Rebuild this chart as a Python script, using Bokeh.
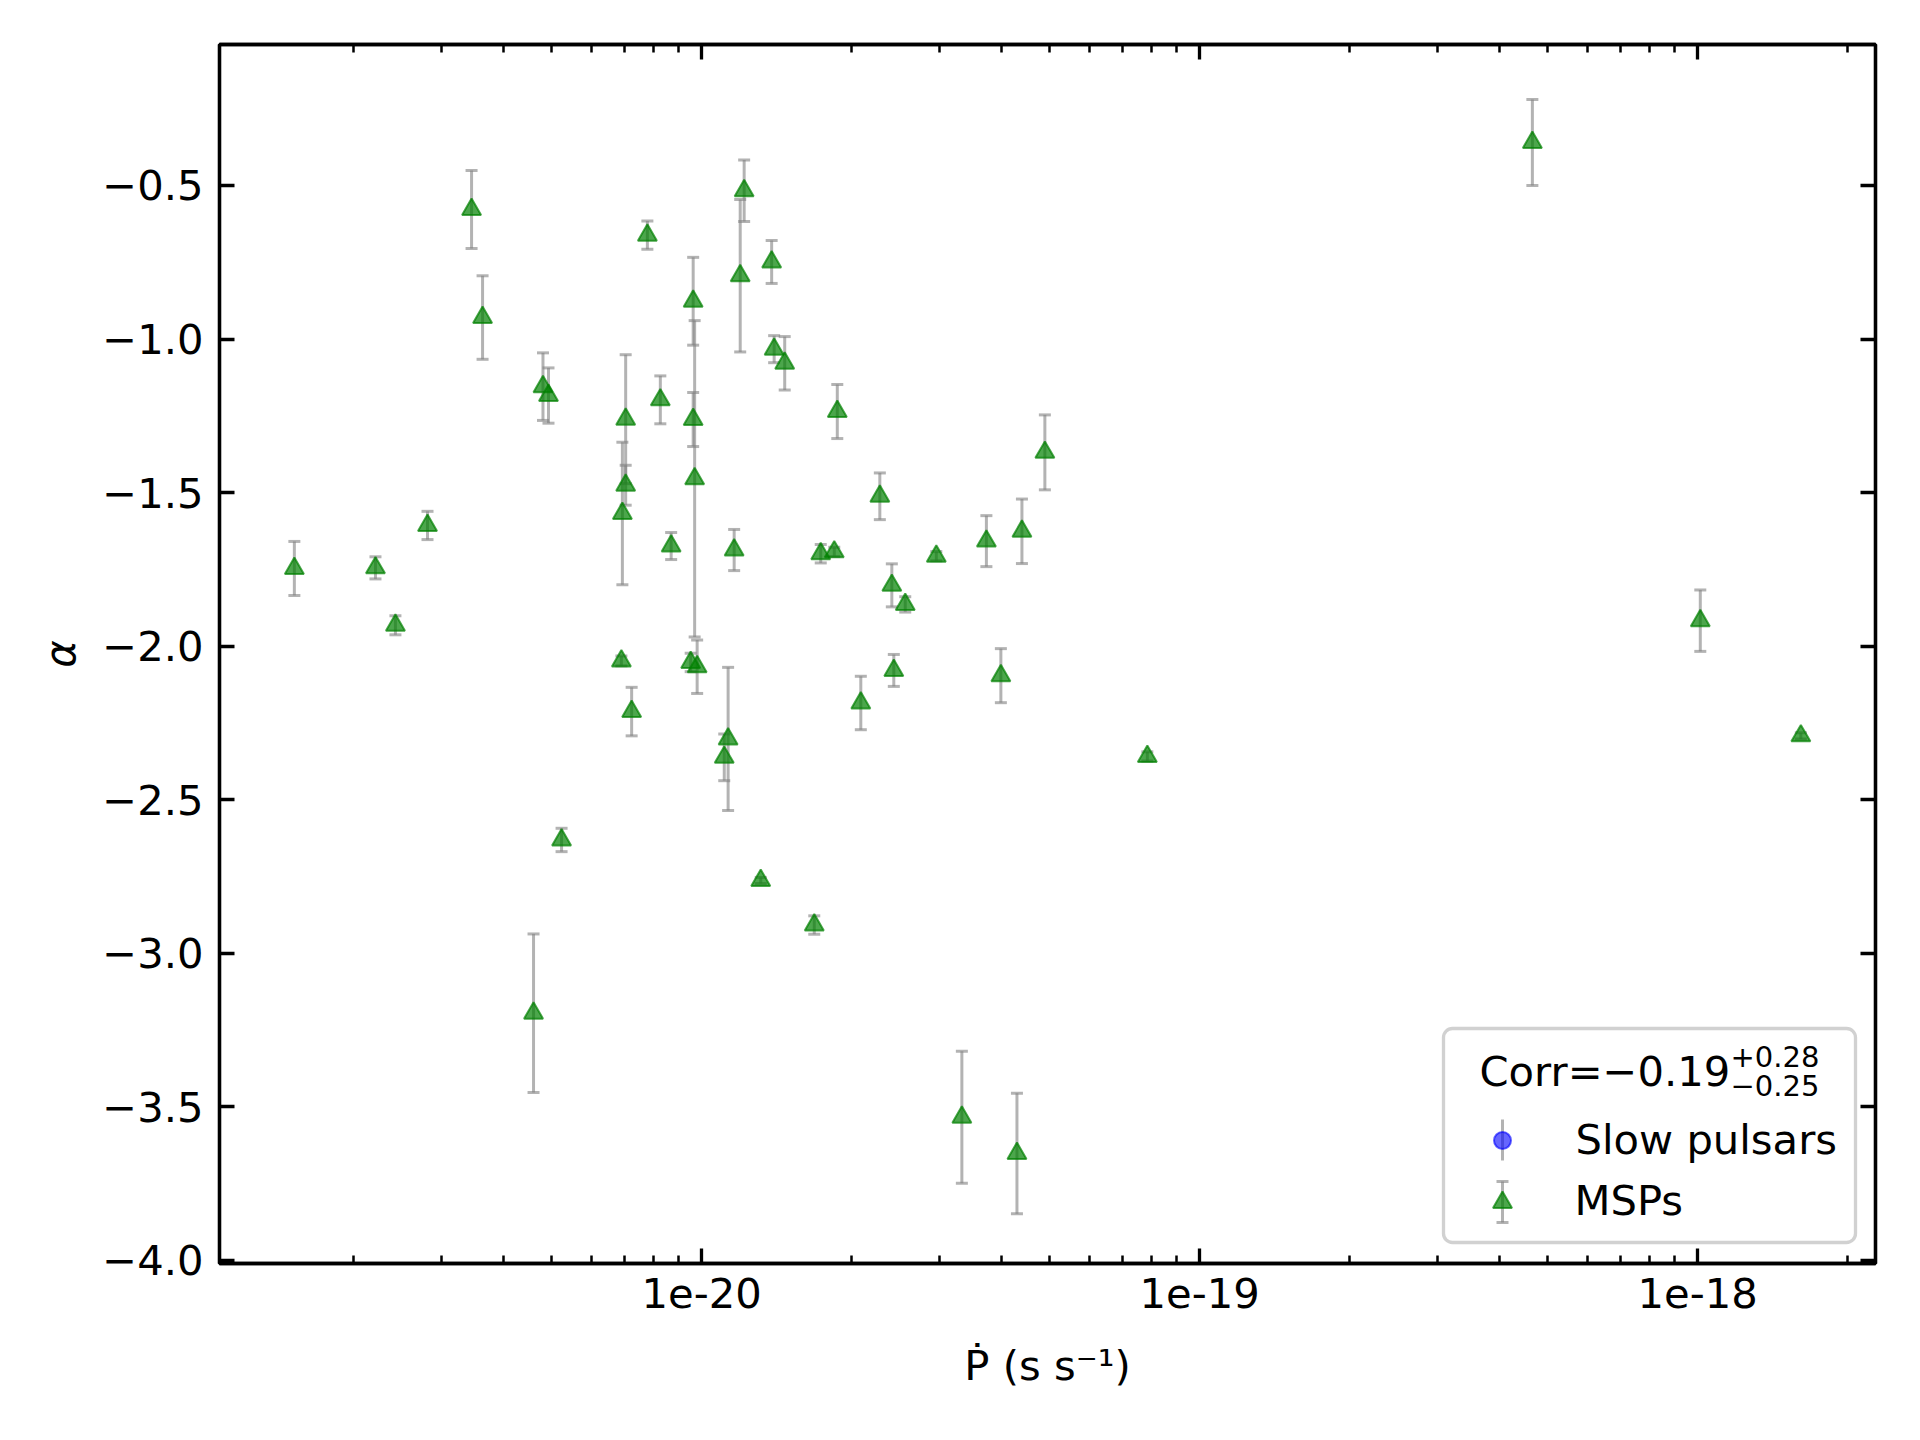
from bokeh.plotting import figure
from bokeh.models import (Range1d, FixedTicker, CustomJSTickFormatter, LogAxis, LinearAxis,
                          ColumnDataSource, BoxAnnotation, Label, LinearScale)
from bokeh.embed import file_html
from bokeh.resources import INLINE

# ---------------- data ----------------
# MSPs: spin-down rate P-dot (s/s), spectral index alpha and its 1-sigma error
msp_pdot = [1.521e-21, 2.213e-21, 2.427e-21, 2.815e-21, 3.451e-21, 3.631e-21,
            4.801e-21, 4.925e-21, 5.232e-21, 4.596e-21, 6.899e-21, 6.931e-21,
            7.037e-21, 7.037e-21, 7.234e-21, 7.780e-21, 8.260e-21, 8.684e-21,
            9.614e-21, 9.614e-21, 9.680e-21, 9.504e-21, 9.793e-21, 1.110e-20,
            1.130e-20, 1.162e-20, 1.195e-20, 1.217e-20, 1.314e-20, 1.382e-20,
            1.398e-20, 1.468e-20, 1.683e-20, 1.734e-20, 1.846e-20, 1.872e-20,
            2.087e-20, 2.279e-20, 2.409e-20, 2.431e-20, 2.563e-20, 2.959e-20,
            3.330e-20, 3.730e-20, 3.988e-20, 4.296e-20, 4.396e-20, 4.888e-20,
            7.850e-20, 4.656e-19, 1.012e-18, 1.611e-18]
msp_alpha = [-1.747, -1.745, -1.932, -1.607, -0.578, -0.930,
             -1.155, -1.184, -2.631, -3.195, -2.048, -1.568,
             -1.476, -1.261, -2.213, -0.662, -1.198, -1.674,
             -0.877, -1.262, -1.455, -2.053, -2.067, -2.362,
             -2.302, -1.687, -0.794, -0.517, -2.763, -0.749,
             -1.033, -1.079, -2.908, -1.699, -1.693, -1.236,
             -2.185, -1.512, -1.802, -2.079, -1.864, -1.707,
             -3.534, -1.658, -2.096, -3.652, -1.626, -1.369,
             -2.359, -0.360, -1.917, -2.292]
msp_err = [0.088, 0.036, 0.031, 0.046, 0.127, 0.136,
           0.110, 0.090, 0.038, 0.258, 0.016, 0.232,
           0.065, 0.210, 0.079, 0.046, 0.078, 0.044,
           0.143, 0.088, 0.515, 0.030, 0.087, 0.076,
           0.233, 0.067, 0.248, 0.100, 0.010, 0.070,
           0.044, 0.087, 0.030, 0.030, 0.015, 0.088,
           0.087, 0.076, 0.070, 0.052, 0.025, 0.015,
           0.215, 0.083, 0.088, 0.196, 0.105, 0.122,
           0.015, 0.140, 0.100, 0.010]

# Slow pulsars: none fall in this panel (legend entry only)
slow_pdot = []
slow_alpha = []
slow_err = []

x_major_ticks = [1e-20, 1e-19, 1e-18]
x_minor_ticks = [2e-21, 3e-21, 4e-21, 5e-21, 6e-21, 7e-21, 8e-21, 9e-21,
                 2e-20, 3e-20, 4e-20, 5e-20, 6e-20, 7e-20, 8e-20, 9e-20,
                 2e-19, 3e-19, 4e-19, 5e-19, 6e-19, 7e-19, 8e-19, 9e-19,
                 2e-18]
y_ticks = [-4.0, -3.5, -3.0, -2.5, -2.0, -1.5, -1.0, -0.5]

corr_main = "Corr=\u22120.19"
corr_up = "+0.28"
corr_down = "\u22120.25"
legend_labels = ["Slow pulsars", "MSPs"]
x_label = "\u1E56 (s s\u207B\u00B9)"
y_label = "\u03B1"

# ---------------- figure ----------------
FW, FH = 1656, 1219
FONT = "DejaVu Sans"
FS = "41.7px"

p = figure(x_axis_type="log",
           x_range=Range1d(1.076e-21, 2.275e-18),
           y_range=Range1d(-4.010, -0.041),
           frame_width=FW, frame_height=FH,
           min_border_left=219, min_border_right=29,
           min_border_top=44, min_border_bottom=150,
           output_backend="svg", toolbar_location=None,
           background_fill_color="white", border_fill_color="white")
p.grid.visible = False
p.outline_line_color = "black"
p.outline_line_width = 3.3

# pixel-space ranges for the hand-drawn legend
p.extra_x_ranges = {"px": Range1d(0, FW)}
p.extra_y_ranges = {"px": Range1d(0, FH)}
p.extra_x_scales = {"px": LinearScale()}
p.extra_y_scales = {"px": LinearScale()}

x_fmt = CustomJSTickFormatter(code="return tick.toExponential(0);")
y_fmt = CustomJSTickFormatter(code="return tick.toFixed(1).replace('-', '\\u2212');")
blank_fmt = CustomJSTickFormatter(code="return '';")


def style_axis(ax, ticker, formatter, labels=True):
    ax.ticker = ticker
    ax.formatter = formatter
    ax.axis_line_color = "black"
    ax.axis_line_width = 3.3
    ax.major_tick_line_color = "black"
    ax.major_tick_line_width = 3.3
    ax.minor_tick_line_color = "black"
    ax.minor_tick_line_width = 2.5
    ax.major_tick_in = 15
    ax.major_tick_out = 0
    ax.minor_tick_in = 8
    ax.minor_tick_out = 0
    ax.major_label_text_font = FONT
    ax.major_label_text_color = "black"
    if labels:
        ax.major_label_text_font_size = FS
    else:
        ax.major_label_text_font_size = "0px"
        ax.major_label_standoff = 0


xb = p.below[0]
yl = p.left[0]
style_axis(xb, FixedTicker(ticks=x_major_ticks, minor_ticks=x_minor_ticks), x_fmt)
style_axis(yl, FixedTicker(ticks=y_ticks, minor_ticks=[]), y_fmt)
xb.major_label_standoff = 14
yl.major_label_standoff = 16

xb.axis_label = x_label
xb.axis_label_text_font = FONT
xb.axis_label_text_font_size = FS
xb.axis_label_text_font_style = "normal"
xb.axis_label_text_color = "black"
xb.axis_label_standoff = 30
yl.axis_label = y_label
yl.axis_label_text_font = FONT
yl.axis_label_text_font_size = FS
yl.axis_label_text_font_style = "italic"
yl.axis_label_text_color = "black"
yl.axis_label_standoff = 14

top_ax = LogAxis()
style_axis(top_ax, FixedTicker(ticks=x_major_ticks, minor_ticks=x_minor_ticks), blank_fmt, labels=False)
p.add_layout(top_ax, "above")
right_ax = LinearAxis()
style_axis(right_ax, FixedTicker(ticks=y_ticks, minor_ticks=[]), blank_fmt, labels=False)
p.add_layout(right_ax, "right")

# ---------------- data marks ----------------
ERR_COLOR = "gray"
ERR_ALPHA = 0.6

msp_src = ColumnDataSource(dict(
    x=msp_pdot, y=msp_alpha,
    lo=[a - e for a, e in zip(msp_alpha, msp_err)],
    hi=[a + e for a, e in zip(msp_alpha, msp_err)]))
slow_src = ColumnDataSource(dict(
    x=slow_pdot, y=slow_alpha,
    lo=[a - e for a, e in zip(slow_alpha, slow_err)],
    hi=[a + e for a, e in zip(slow_alpha, slow_err)]))

for src in (slow_src, msp_src):
    p.segment(x0="x", y0="lo", x1="x", y1="hi", source=src,
              line_color=ERR_COLOR, line_alpha=ERR_ALPHA, line_width=3)
p.scatter(x="x", y="lo", source=msp_src, marker="dash", size=12,
          line_color=ERR_COLOR, line_alpha=ERR_ALPHA, line_width=3)
p.scatter(x="x", y="hi", source=msp_src, marker="dash", size=12,
          line_color=ERR_COLOR, line_alpha=ERR_ALPHA, line_width=3)

p.scatter(x="x", y="y", source=slow_src, marker="circle", size=17,
          fill_color="blue", fill_alpha=0.6, line_color="blue", line_alpha=0.6, line_width=2)
p.scatter(x="x", y="y", source=msp_src, marker="triangle", size=19,
          fill_color="green", fill_alpha=0.7, line_color="green", line_alpha=0.7, line_width=2)

# ---------------- legend (pixel coordinates inside the frame) ----------------
box = BoxAnnotation(left=1224, right=1636, bottom=21, top=235,
                    x_range_name="px", y_range_name="px",
                    fill_color="white", fill_alpha=0.8,
                    line_color="#cccccc", line_alpha=0.9, line_width=3.3,
                    border_radius=9)
p.add_layout(box)


def txt(s, x, y, size):
    p.add_layout(Label(x=x, y=y, text=s, x_range_name="px", y_range_name="px",
                       text_font=FONT, text_font_size=size, text_color="black",
                       text_baseline="alphabetic", text_align="left"))


txt(corr_main, 1260, 192, FS)
txt(corr_up, 1511, 207, "29px")
txt(corr_down, 1511, 178, "29px")
txt(legend_labels[0], 1356, 124, FS)
txt(legend_labels[1], 1355, 63, FS)

LX = 1283
# slow pulsars symbol: vertical bar (no caps) + blue circle
p.segment(x0=[LX], y0=[103], x1=[LX], y1=[144], x_range_name="px", y_range_name="px",
          line_color=ERR_COLOR, line_alpha=ERR_ALPHA, line_width=3, level="overlay")
p.scatter(x=[LX], y=[123], x_range_name="px", y_range_name="px", marker="circle", size=17,
          fill_color="blue", fill_alpha=0.6, line_color="blue", line_alpha=0.6,
          line_width=2, level="overlay")
# MSP symbol: capped bar + green triangle
p.segment(x0=[LX], y0=[41], x1=[LX], y1=[82], x_range_name="px", y_range_name="px",
          line_color=ERR_COLOR, line_alpha=ERR_ALPHA, line_width=3, level="overlay")
p.scatter(x=[LX, LX], y=[41, 82], x_range_name="px", y_range_name="px", marker="dash", size=12,
          line_color=ERR_COLOR, line_alpha=ERR_ALPHA, line_width=3, level="overlay")
p.scatter(x=[LX], y=[61], x_range_name="px", y_range_name="px", marker="triangle", size=19,
          fill_color="green", fill_alpha=0.7, line_color="green", line_alpha=0.7,
          line_width=2, level="overlay")

open("out.html", "w").write(file_html(p, INLINE))
